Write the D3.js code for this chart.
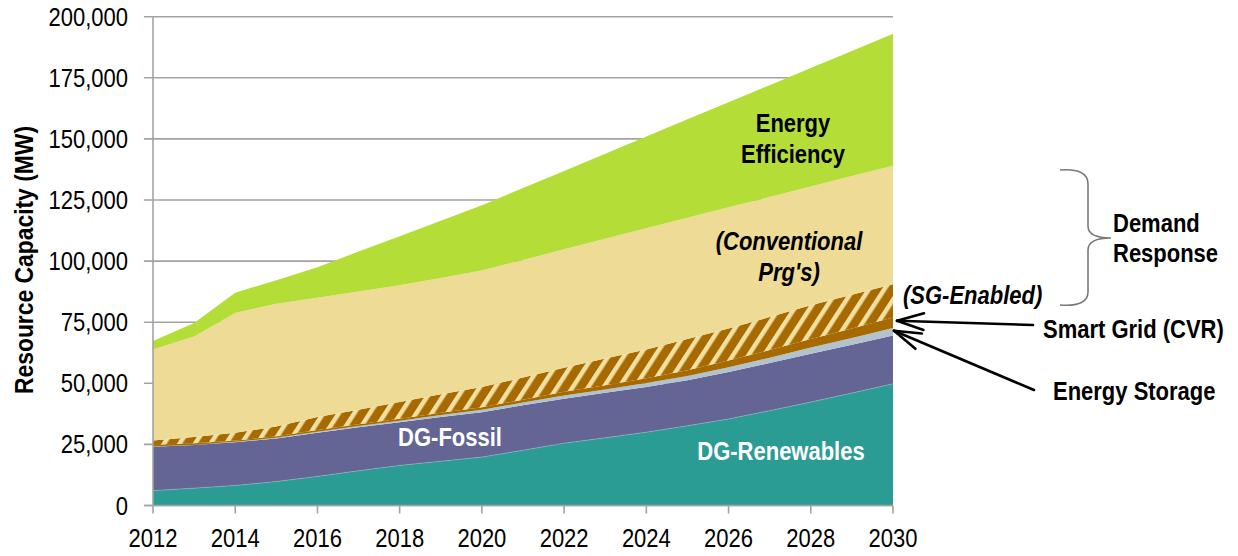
<!DOCTYPE html>
<html>
<head>
<meta charset="utf-8">
<script src="https://cdn.jsdelivr.net/npm/d3@7"></script>
<style>
  html, body { margin: 0; padding: 0; background: #fff; }
  svg { display: block; font-family: "Liberation Sans", Arial, sans-serif; }
</style>
</head>
<body>
<svg id="chart" width="1238" height="556"></svg>
<script>
// Resource capacity outlook, MW, stacked from the bottom up
const years = d3.range(2012, 2031);
const dgRenewables = [6100, 7100, 8200, 9800, 11900, 14200, 16400, 18100, 19800, 22600, 25500, 27700, 30000, 32600, 35400, 38800, 42300, 46000, 49800];
const dgFossil = [17900, 17700, 17700, 17600, 17900, 17800, 17700, 18100, 18400, 18400, 18200, 18400, 18500, 18600, 19200, 19500, 19800, 19800, 19800];
const energyStorage = [100, 100, 200, 300, 400, 500, 600, 800, 1000, 1100, 1300, 1400, 1600, 1800, 2000, 2200, 2500, 2700, 3000];
const smartGridCVR = [700, 600, 500, 600, 700, 700, 800, 900, 1000, 1200, 1500, 1700, 2000, 2300, 2700, 3100, 3500, 3900, 4300];
const drSGEnabled = [1800, 2500, 3200, 4000, 5300, 6000, 6800, 7600, 8300, 9100, 9900, 10900, 11700, 12800, 13100, 13500, 13800, 13800, 13600];
const drConventional = [37200, 41200, 49000, 50300, 48800, 48400, 47800, 47600, 47700, 48100, 48400, 49000, 49600, 49600, 49600, 49100, 48600, 48600, 48500];
const energyEfficiency = [3500, 5500, 8300, 9600, 12500, 16300, 20100, 23400, 26700, 29400, 32100, 34800, 37600, 40300, 43000, 45800, 48500, 51200, 54000];

const yTicks = [0, 25000, 50000, 75000, 100000, 125000, 150000, 175000, 200000];
const xTicks = [2012, 2014, 2016, 2018, 2020, 2022, 2024, 2026, 2028, 2030];

const seriesKeys = ["dgRenewables", "dgFossil", "energyStorage", "smartGridCVR", "drSGEnabled", "drConventional", "energyEfficiency"];
const seriesValues = { dgRenewables, dgFossil, energyStorage, smartGridCVR, drSGEnabled, drConventional, energyEfficiency };
const fills = {
  dgRenewables: "#2b9c94",
  dgFossil: "#646595",
  energyStorage: "#b0c3cf",
  smartGridCVR: "#a66a00",
  drSGEnabled: "url(#sgHatch)",
  drConventional: "#eedb95",
  energyEfficiency: "#b4de37"
};

const table = years.map((yr, i) => {
  const row = { year: yr };
  seriesKeys.forEach(k => row[k] = seriesValues[k][i]);
  return row;
});

const svg = d3.select("#chart");
const x = d3.scaleLinear().domain([2012, 2030]).range([153, 893]);
const y = d3.scaleLinear().domain([0, 200000]).range([505.5, 16.7]);

const sx = 0.88; // narrow face

function label(g, px, py, str, o = {}) {
  return g.append("text")
    .attr("transform", `translate(${px},${py})${o.rotate ? " rotate(" + o.rotate + ")" : ""} scale(${sx},1)`)
    .attr("text-anchor", o.anchor || "middle")
    .attr("font-size", o.size || 25)
    .attr("font-weight", o.weight || "bold")
    .attr("font-style", o.italic ? "italic" : "normal")
    .attr("fill", o.fill || "#000")
    .text(str);
}

// hatch for the SG-enabled demand response band
const defs = svg.append("defs");
const pat = defs.append("pattern")
  .attr("id", "sgHatch")
  .attr("patternUnits", "userSpaceOnUse")
  .attr("width", 13).attr("height", 13)
  .attr("patternTransform", "rotate(33)");
pat.append("rect").attr("width", 13).attr("height", 13).attr("fill", "#a66a00");
pat.append("rect").attr("x", 0).attr("width", 4.5).attr("height", 13).attr("fill", "#f1e0a2");

// gridlines with left tick stubs
const grid = svg.append("g");
grid.selectAll("line").data(yTicks).join("line")
  .attr("x1", 144).attr("x2", 893)
  .attr("y1", d => y(d)).attr("y2", d => y(d))
  .attr("stroke", "#a3a3a3").attr("stroke-width", 1.6);

// stacked areas
const stack = d3.stack().keys(seriesKeys);
const layers = stack(table);
const area = d3.area()
  .x(d => x(d.data.year))
  .y0(d => y(d[0]))
  .y1(d => y(d[1]));

svg.append("g").selectAll("path").data(layers).join("path")
  .attr("d", area)
  .attr("fill", d => fills[d.key]);

// faint seam along the top of the renewables layer
const seam = d3.line().x(d => x(d.data.year)).y(d => y(d[1]));
svg.append("path").attr("d", seam(layers[0])).attr("fill", "none")
  .attr("stroke", "#8fb9c9").attr("stroke-width", 0.8).attr("opacity", 0.7);

// axes
svg.append("line").attr("x1", x(2012)).attr("x2", x(2012))
  .attr("y1", y(200000)).attr("y2", y(0))
  .attr("stroke", "#a3a3a3").attr("stroke-width", 1.6);
svg.append("line").attr("x1", 144).attr("x2", 893)
  .attr("y1", y(0)).attr("y2", y(0))
  .attr("stroke", "#a3a3a3").attr("stroke-width", 1.6);
svg.append("g").selectAll("line").data(xTicks).join("line")
  .attr("x1", d => x(d)).attr("x2", d => x(d))
  .attr("y1", y(0)).attr("y2", y(0) + 8)
  .attr("stroke", "#a3a3a3").attr("stroke-width", 1.6);

const fmt = d3.format(",");
const tickG = svg.append("g");
yTicks.forEach(t => label(tickG, 128, y(t) + 9, fmt(t), { anchor: "end", weight: "normal" }));
xTicks.forEach(t => label(tickG, x(t), 547, String(t), { weight: "normal" }));

label(svg, 33, 260, "Resource Capacity (MW)", { rotate: -90, size: 26 });

// in-chart labels
label(svg, 793, 132, "Energy");
label(svg, 793, 163, "Efficiency");
label(svg, 789, 250, "(Conventional", { italic: true });
label(svg, 789, 281, "Prg's)", { italic: true });
label(svg, 903, 304, "(SG-Enabled)", { italic: true, anchor: "start" });
label(svg, 450, 446, "DG-Fossil", { fill: "#fff" });
label(svg, 781, 460, "DG-Renewables", { fill: "#fff" });

// demand response brace and labels
svg.append("path")
  .attr("d", "M1060,170 Q1088,168 1088,184 L1088,226 Q1088,238 1111,238 Q1088,238 1088,250 L1088,292 Q1088,307 1060,305")
  .attr("fill", "none").attr("stroke", "#7a7a7a").attr("stroke-width", 1.6);
label(svg, 1113, 232, "Demand", { anchor: "start" });
label(svg, 1113, 262, "Response", { anchor: "start" });

label(svg, 1043, 338, "Smart Grid (CVR)", { anchor: "start" });
label(svg, 1053, 400, "Energy Storage", { anchor: "start" });

// leader arrows pointing at the thin 2030 bands
const last = years.length - 1;
function midOf(key) {
  const L = layers.find(l => l.key === key)[last];
  return (L[0] + L[1]) / 2;
}
function arrow(x0, y0, x1, y1) {
  const g = svg.append("g").attr("stroke", "#000").attr("stroke-width", 2.6)
    .attr("stroke-linecap", "round").attr("fill", "none");
  g.append("line").attr("x1", x0).attr("y1", y0).attr("x2", x1).attr("y2", y1);
  const ang = Math.atan2(y0 - y1, x0 - x1);
  [-0.3, 0.3].forEach(da => {
    g.append("line").attr("x1", x1).attr("y1", y1)
      .attr("x2", x1 + 28 * Math.cos(ang + da))
      .attr("y2", y1 + 28 * Math.sin(ang + da));
  });
}
arrow(1033, 325, x(2030) + 4, y(midOf("smartGridCVR")) - 2);
arrow(1034, 390, x(2030) + 1, y(midOf("energyStorage")) - 1);
</script>
</body>
</html>
